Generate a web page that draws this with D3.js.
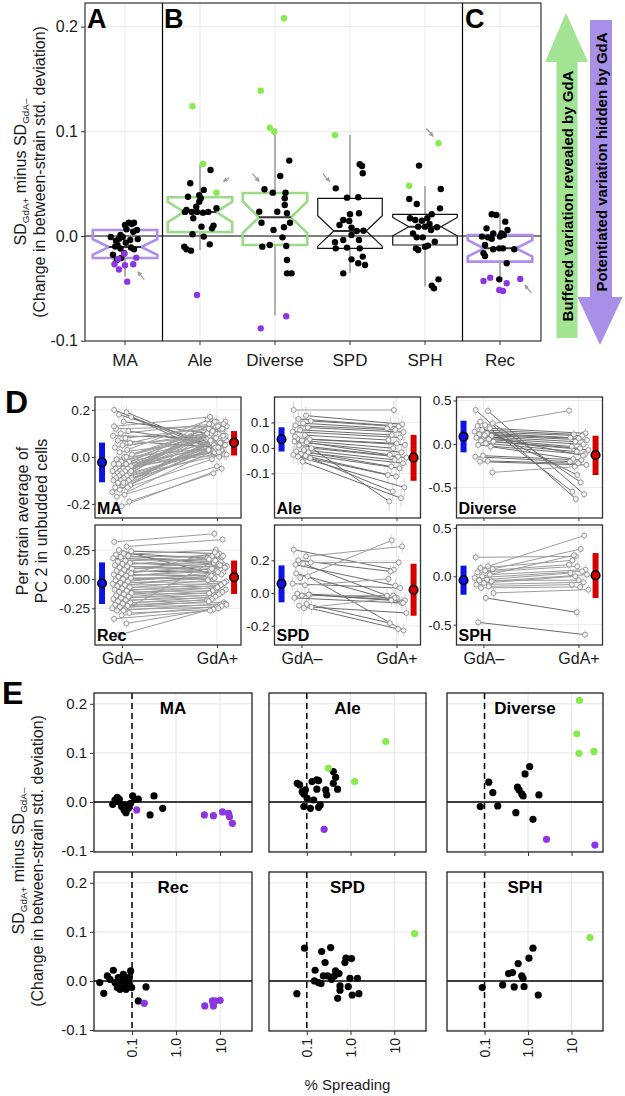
<!DOCTYPE html>
<html><head><meta charset="utf-8">
<script src="https://cdn.jsdelivr.net/npm/d3@7"></script>
<style>body{margin:0;background:#fff} svg{display:block} text{font-family:"Liberation Sans",Arial,sans-serif}</style>
</head><body><svg id="c" width="625" height="1096"></svg>
<script>
// ================= DATA =================
// Panels A-C
const groupNames = ["MA","Ale","Diverse","SPD","SPH","Rec"];
const boxKind = ["hidden","revealed","revealed","none","none","hidden"];
const boxQ1  = [-0.021, 0.0038, -0.0086, -0.0118, -0.0086, -0.0245];
const boxMed = [-0.0105, 0.023, 0.0178, 0.0048, 0.0089, -0.0118];
const boxQ3  = [0.0057, 0.037, 0.041, 0.036, 0.0207, 0.001];
const whiskLo = [-0.039, -0.0134, -0.076, -0.035, -0.048, -0.039];
const whiskHi = [0.013, 0.069, 0.103, 0.0965, 0.0478, 0.0217];
const topTicks = [-0.1, 0.0, 0.1, 0.2];
// [jitter (category units), value, class k=black g=revealed p=hidden]
const maPts = [[-0.19,-0.001,"k"],[-0.12,-0.0045,"k"],[-0.08,-0.0026,"k"],[-0.06,0.001,"k"],[0,0.0105,"k"],[0.05,0.0127,"k"],[0.09,0.0115,"k"],[0.12,0.0127,"k"],[0.16,0.0057,"k"],[0.11,0.004,"k"],[0.07,-0.0038,"k"],[0.01,-0.0064,"k"],[-0.10,-0.0086,"k"],[-0.13,-0.010,"k"],[-0.06,-0.012,"k"],[-0.01,-0.0165,"k"],[-0.05,-0.021,"k"],[-0.11,-0.023,"k"],[0.08,-0.011,"k"],[0.12,-0.0127,"k"],[0.17,-0.003,"k"],[0.02,0.0064,"k"],[-0.03,-0.001,"k"],[-0.16,-0.018,"k"],
 [-0.14,-0.027,"p"],[-0.08,-0.032,"p"],[0.0,-0.028,"p"],[0.11,-0.027,"p"],[0.15,-0.0207,"p"],[-0.01,-0.017,"p"],[0.03,-0.0436,"p"],[-0.09,-0.022,"p"]];
const alePts = [[-0.13,0.0503,"k"],[0.14,0.063,"k"],[-0.16,0.0375,"k"],[-0.01,0.039,"k"],[0.01,0.036,"k"],[0.05,0.044,"k"],[-0.01,0.0328,"k"],[-0.05,0.028,"k"],[-0.11,0.023,"k"],[-0.18,0.0248,"k"],[-0.2,0.023,"k"],[-0.04,0.023,"k"],[0.04,0.0223,"k"],[0.11,0.023,"k"],[0.22,0.0265,"k"],[-0.09,0.017,"k"],[0.02,0.0089,"k"],[0.18,0.0099,"k"],[0.16,0.0073,"k"],[-0.1,0.0016,"k"],[0.05,-0.0006,"k"],[0.13,-0.008,"k"],[-0.21,-0.0102,"k"],[-0.18,-0.0127,"k"],[-0.12,-0.014,"k"],
 [-0.1,0.124,"g"],[0.04,0.0688,"g"],[0.22,0.0414,"g"],[-0.04,-0.0564,"p"]];
const divPts = [[-0.14,0.0446,"k"],[-0.03,0.0414,"k"],[0.14,0.0414,"k"],[0.19,0.072,"k"],[0.07,0.0573,"k"],[0.13,0.036,"k"],[0.13,0.0296,"k"],[-0.21,0.0232,"k"],[0.03,0.0232,"k"],[0.16,0.0217,"k"],[0.2,0.0127,"k"],[-0.18,0.0127,"k"],[-0.02,0.0057,"k"],[0.12,0.0083,"k"],[0.1,-0.0013,"k"],[0.15,-0.0096,"k"],[-0.17,-0.0102,"k"],[-0.07,-0.0086,"k"],[0.16,-0.0229,"k"],[0.16,-0.0357,"k"],[0.22,-0.0357,"k"],
 [-0.19,0.1388,"g"],[0.12,0.208,"g"],[-0.07,0.1034,"g"],[-0.01,0.0996,"g"],[-0.19,-0.0882,"p"],[0.15,-0.0767,"p"]];
const spdPts = [[0.13,0.0685,"k"],[0.16,0.0669,"k"],[0.17,0.0599,"k"],[-0.19,0.0455,"k"],[-0.04,0.0366,"k"],[0.11,0.037,"k"],[0,0.0207,"k"],[0.12,0.0217,"k"],[-0.09,0.0153,"k"],[-0.01,0.0143,"k"],[-0.14,0.0105,"k"],[0.02,0.008,"k"],[0.09,0.0048,"k"],[0.18,0.0051,"k"],[-0.09,-0.0038,"k"],[0.02,0.001,"k"],[0.12,-0.0038,"k"],[-0.2,-0.006,"k"],[-0.04,-0.0111,"k"],[-0.19,-0.0118,"k"],[0.13,-0.0118,"k"],[0.17,-0.0197,"k"],[0.02,-0.0223,"k"],[0.11,-0.0261,"k"],[0.2,-0.0277,"k"],[-0.09,-0.0357,"k"],
 [-0.2,0.0965,"g"]];
const sphPts = [[-0.08,0.0672,"k"],[-0.21,0.0353,"k"],[-0.11,0.0306,"k"],[0.21,0.0449,"k"],[0.09,0.0207,"k"],[0.2,0.0264,"k"],[-0.2,0.0169,"k"],[-0.13,0.0153,"k"],[-0.04,0.0146,"k"],[0.03,0.0169,"k"],[0.06,0.0115,"k"],[-0.09,0.0089,"k"],[0,0.0089,"k"],[0.08,0.0057,"k"],[0.16,0.0083,"k"],[-0.16,0.0025,"k"],[-0.11,-0.0013,"k"],[-0.03,-0.0013,"k"],[0.13,-0.0054,"k"],[0.04,-0.0092,"k"],[0,-0.0102,"k"],[-0.12,-0.0118,"k"],[-0.09,-0.0134,"k"],[0.09,-0.0474,"k"],[0.18,-0.0414,"k"],[0.12,-0.05,"k"],
 [-0.21,0.048,"g"],[0.18,0.0885,"g"]];
const recPts = [[-0.11,0.0207,"k"],[-0.05,0.02,"k"],[0.07,0.0137,"k"],[0.1,0.0057,"k"],[-0.18,0.0073,"k"],[-0.09,0.0025,"k"],[0.02,0.0025,"k"],[-0.24,-0.0006,"k"],[-0.16,-0.0013,"k"],[-0.11,-0.0026,"k"],[0,-0.0006,"k"],[0.05,0.001,"k"],[-0.2,-0.0086,"k"],[-0.09,-0.0127,"k"],[-0.01,-0.0118,"k"],[0.04,-0.0118,"k"],[0.19,-0.0127,"k"],[-0.22,-0.0165,"k"],[-0.2,-0.0191,"k"],[0.09,-0.0261,"k"],[-0.01,-0.0414,"k"],
 [-0.22,-0.043,"p"],[-0.13,-0.0398,"p"],[-0.01,-0.0516,"p"],[0.04,-0.0525,"p"],[0.09,-0.0452,"p"],[0.27,-0.041,"p"]];
const topPoints = [maPts, alePts, divPts, spdPts, sphPts, recPts];
// small grey pointer arrows: [group, jitter, value, direction]
const pointerTips = [["MA",0.17,-0.034,"ul"],["Ale",0.31,0.052,"dl"],["Diverse",-0.21,0.052,"dr"],["SPD",-0.27,0.052,"dr"],["SPH",0.11,0.095,"dr"],["Rec",0.33,-0.0468,"ul"]];
const arrowUpText = "Buffered variation revealed by GdA";
const arrowDownText = "Potentiated variation hidden by GdA";

// Panel D: per strain PC2 averages (GdA-, GdA+)
const dNames = ["MA","Ale","Diverse","Rec","SPD","SPH"];
const maMinus = [0.20,0.19,0.18,0.17,0.15,0.12,0.11,0.10,0.09,0.08,0.07,0.06,0.05,0.04,0.03,0.02,0.01,0.00,-0.01,-0.02,-0.02,-0.03,-0.03,-0.04,-0.04,-0.05,-0.05,-0.05,-0.06,-0.06,-0.06,-0.07,-0.07,-0.07,-0.08,-0.08,-0.08,-0.09,-0.09,-0.09,-0.10,-0.10,-0.10,-0.11,-0.11,-0.12,-0.12,-0.13,-0.13,-0.14,-0.15,-0.16,-0.17,-0.19,-0.21,0.13,0.00,-0.03,-0.06,-0.11];
const maPlus  = [0.03,0.02,0.06,0.00,0.10,0.13,0.05,0.14,0.08,0.12,0.04,0.15,0.09,0.11,0.16,0.07,0.13,0.10,0.14,0.06,0.12,0.08,0.15,0.05,0.11,0.03,0.09,0.13,0.07,0.02,0.12,0.10,0.04,0.16,0.08,0.01,0.11,0.06,0.14,0.03,0.09,0.05,0.12,0.07,0.02,0.10,0.04,0.08,-0.01,0.06,0.03,-0.04,0.05,-0.07,-0.05,0.17,0.04,0.01,0.15,0.09];
const aleMinus = [0.149,0.127,0.114,0.106,0.097,0.088,0.08,0.071,0.064,0.05,0.037,0.034,0.029,0.025,0.022,0.01,-0.001,-0.008,-0.014,-0.017,-0.023,-0.027,-0.031,-0.034,-0.04,-0.054,0.045];
const alePlus  = [0.149,0.093,0.088,0.084,0.077,0.071,0.062,0.051,0.041,0.031,0.018,0.012,-0.001,-0.017,-0.027,-0.034,-0.038,-0.047,-0.06,-0.073,-0.08,-0.106,-0.112,-0.155,-0.171,-0.197,-0.21];
const divMinus = [0.391,0.379,0.257,0.238,0.218,0.207,0.18,0.161,0.142,0.123,0.111,0.095,0.084,0.073,0.054,0.038,0.027,0.008,-0.011,-0.03,-0.134,-0.146,-0.195,-0.203,-0.326,0.10];
const divPlus  = [-0.632,-0.578,-0.548,-0.44,0.383,-0.356,0.123,0.111,0.095,0.073,0.065,0.046,0.027,-0.004,-0.03,-0.05,-0.069,-0.088,-0.119,-0.172,-0.184,-0.203,-0.222,-0.241,-0.26,-0.134];
const recMinus = [0.32,0.28,0.25,0.24,0.22,0.21,0.20,0.19,0.18,0.16,0.15,0.14,0.13,0.12,0.11,0.10,0.09,0.08,0.07,0.06,0.05,0.04,0.03,0.02,0.01,0.00,-0.01,-0.02,-0.03,-0.04,-0.05,-0.06,-0.07,-0.08,-0.09,-0.10,-0.11,-0.12,-0.13,-0.14,-0.15,-0.16,-0.17,-0.18,-0.19,-0.20,-0.21,-0.22,-0.23,-0.24,-0.25,-0.26,-0.27,-0.29,-0.31,-0.34,-0.38,-0.48,0.05,-0.27];
const recPlus  = [0.39,0.34,0.05,0.22,0.18,0.25,0.12,0.20,0.15,0.17,0.21,0.10,0.14,0.19,0.08,0.13,0.11,0.16,0.06,0.09,0.12,0.03,0.07,0.10,0.00,0.04,0.02,0.06,-0.02,0.01,-0.04,0.03,-0.06,-0.01,-0.08,-0.03,-0.10,-0.05,-0.12,-0.07,-0.09,-0.14,-0.11,-0.16,-0.13,-0.18,-0.15,-0.20,-0.17,-0.22,-0.19,-0.24,-0.21,-0.26,-0.23,-0.27,-0.25,-0.22,0.23,0.20];
const spdMinus = [0.265,0.224,0.2,0.187,0.179,0.173,0.102,0.092,0.057,0.047,-0.004,-0.01,-0.016,-0.03,-0.067,-0.077,-0.086,-0.092,0.12,-0.01];
const spdPlus  = [0.143,0.285,0.132,0.187,-0.016,0.045,-0.229,0.322,0.03,0.086,-0.03,-0.045,-0.016,-0.061,-0.184,-0.22,-0.122,-0.03,-0.061,-0.045];
const sphMinus = [0.196,0.103,0.086,0.075,0.058,0.041,0.017,0.0,-0.017,-0.035,-0.041,-0.052,-0.069,-0.086,-0.104,-0.12,-0.172,-0.224,-0.476];
const sphPlus  = [0.206,0.42,0.165,0.282,0.12,0.103,0.068,0.217,0.051,0.034,-0.041,0.017,0.0,-0.062,-0.086,-0.11,-0.138,-0.372,-0.603];
const dStrainSE = [0.025,0.035,0.06,0.035,0.04,0.05];
const dMinusMean = [-0.023,0.034,0.084,-0.035,0.057,-0.041];
const dMinusLo   = [-0.108,-0.014,-0.096,-0.213,-0.057,-0.19];
const dMinusHi   = [0.061,0.081,0.268,0.144,0.169,0.11];
const dPlusMean  = [0.061,-0.038,-0.126,0.017,0.02,0.01];
const dPlusLo    = [0.006,-0.129,-0.356,-0.127,-0.139,-0.224];
const dPlusHi    = [0.11,0.051,0.095,0.16,0.179,0.24];
const dTicks = [[-0.2,0,0.2],[-0.1,0,0.1],[-0.5,0,0.5],[-0.25,0,0.25],[-0.2,0,0.2],[-0.5,0,0.5]];
const dTickDigits = [1,1,1,2,1,1];
const dDomains = [[-0.26,0.255],[-0.275,0.2],[-0.85,0.54],[-0.565,0.465],[-0.318,0.416],[-0.71,0.53]];
const dCondLabels = ["GdA\u2013","GdA+"];

// Panel E: % spreading vs SD change
const eNames = ["MA","Ale","Diverse","Rec","SPD","SPH"];
const eMaX = [0.0364,0.041,0.0464,0.0515,0.058,0.0658,0.073,0.0826,0.093,0.1036,0.117,0.139,0.316,0.257,0.497,0.0758,0.0489,0.0658, 0.128,4.4,7.05,11.3,15.5,16.3,19.0];
const eMaY = [-0.0048,0.004,0.0095,0.0054,-0.0095,-0.0163,-0.0218,-0.0129,-0.0027,0.0122,0.0054,0.006,0.0122,-0.0265,-0.0129,-0.0095,0.0007,-0.0061, -0.0163,-0.0265,-0.0279,-0.0204,-0.0231,-0.03,-0.0435];
const eMaC = "kkkkkkkkkkkkkkkkkkppppppp";
const eAleX = [0.0605,0.0686,0.0785,0.093,0.132,0.17,0.0857,0.121,0.144,0.186,0.17,0.272,0.286,0.404,0.456,0.404,0.506,0.086,0.102,0.186,0.203, 0.312,1.24,6.38, 0.249];
const eAleY = [0.038,0.0347,0.021,0.0245,0.0415,0.045,-0.0095,-0.013,0.004,0.0435,0.026,0.0245,0.0143,0.062,0.05,0.038,0.026,0.016,0.0075,-0.011,-0.006, 0.0687,0.0415,0.123, -0.0558];
const eAleC = "kkkkkkkkkkkkkkkkkkkkkgggp";
const eDivX = [0.125,0.155,0.0798,0.201,0.525,0.573,0.624,0.718,0.769,0.855,1.09,1.78,1.3, 15.2,13.2,14.9,32.7, 2.66,34.5];
const eDivY = [0.0402,0.019,-0.0095,-0.0082,-0.0218,0.03,0.0245,0.0163,0.0122,0.057,0.072,0.0143,-0.0354, 0.207,0.139,0.099,0.103, -0.076,-0.0878];
const eDivC = "kkkkkkkkkkkkkggggpp";
const eRecX = [0.0185,0.0228,0.0275,0.0316,0.0376,0.0411,0.0464,0.0489,0.0534,0.0582,0.0635,0.0694,0.073,0.0826,0.093,0.098,0.0757,0.0582,0.044,0.139,0.208,0.0658,0.0869, 0.19,4.49,7.05,6.7,7.7,10];
const eRecY = [-0.0034,-0.0252,0.0102,0.0034,0.0218,-0.0034,-0.0136,0.0068,-0.017,0,0.0136,0.0068,-0.017,-0.0034,0.0204,-0.0136,-0.0068,-0.0136,-0.0054,-0.0408,-0.0122,0.0102,0.0068, -0.0456,-0.051,-0.051,-0.0408,-0.0408,-0.0394];
const eRecC = "kkkkkkkkkkkkkkkkkkkkkkkpppppp";
const eSpdX = [0.0887,0.0593,0.219,0.351,0.262,0.786,1.05,0.745,0.155,0.24,0.3,0.37,0.456,0.507,0.427,0.545,0.15,0.185,0.212,0.969,1.44,0.574,0.574,0.887,0.507,1.09,1.55, 29.1];
const eSpdY = [0.0667,-0.0259,0.06,0.068,0.0374,0.0463,0.0456,0.0374,0.0218,0.0102,0.0102,0.0034,0.0204,0.015,0.0102,0.015,0,-0.0034,-0.0054,0.0054,0.0054,-0.0102,-0.019,-0.0116,-0.0354,-0.0286,-0.0259, 0.0966];
const eSpdC = "kkkkkkkkkkkkkkkkkkkkkkkkkkkg";
const eSphX = [0.0886,0.261,0.357,0.44,0.481,0.593,0.718,0.769,0.811,1.05,1.3,1.72, 26.6];
const eSphY = [-0.0136,-0.0082,0.015,0.017,-0.0122,0.0354,0.0102,0.0054,-0.0116,0.0463,0.0667,-0.0286, 0.0884];
const eSphC = "kkkkkkkkkkkkg";
const eXTicks = [0.1, 1, 10];
const eXTickLabels = ["0.1","1.0","10"];
const eYTicks = [-0.1, 0, 0.1, 0.2];
const eThreshold = 0.1;

// ================= DRAWING =================
const svg = d3.select("#c");
svg.append("rect").attr("width",625).attr("height",1096).attr("fill","#fff");
const GREEN_PT="#86ec4c", PURPLE_PT="#8b36e2", GREEN_BOX="#9adb88", PURPLE_BOX="#ad8eec";
const GREEN_ARROW="#a3e394", PURPLE_ARROW="#a88fe8";
const colOf = c => c==="g"?GREEN_PT : c==="p"?PURPLE_PT : "#000";
const GRID="#ebebeb", TXT="#1a1a1a";

function ylabel(g, cx, cy, l1size, line2){
  const t1 = g.append("text").attr("transform",`translate(${cx},${cy}) rotate(-90)`)
    .attr("text-anchor","middle").attr("font-size",l1size).attr("fill",TXT);
  t1.append("tspan").text("SD");
  t1.append("tspan").attr("font-size",l1size*0.62).attr("dy",3).text("GdA+");
  t1.append("tspan").attr("dy",-3).text(" minus SD");
  t1.append("tspan").attr("font-size",l1size*0.62).attr("dy",3).text("GdA\u2013");
  g.append("text").attr("transform",`translate(${cx+19},${cy}) rotate(-90)`)
    .attr("text-anchor","middle").attr("font-size",l1size).attr("fill",TXT).text(line2);
}

// ---------- Top panel (A,B,C) ----------
const T = {left:85, right:541, top:3, bottom:341};
const xT = d3.scaleBand().domain(groupNames).range([87.5,537.5]);
const bw = xT.bandwidth();
const cx = n => xT(n) + bw/2;
const yT = d3.scaleLinear().domain([-0.1003,0.2225]).range([T.bottom,T.top]);
const gT = svg.append("g");
gT.selectAll(".vg").data(groupNames).join("line").attr("x1",cx).attr("x2",cx).attr("y1",T.top).attr("y2",T.bottom).attr("stroke",GRID).attr("stroke-width",1);
gT.selectAll(".hg").data(topTicks.filter(d=>d>0)).join("line").attr("x1",T.left).attr("x2",T.right).attr("y1",d=>yT(d)).attr("y2",d=>yT(d)).attr("stroke",GRID);
gT.append("line").attr("x1",T.left).attr("x2",T.right).attr("y1",yT(0)).attr("y2",yT(0)).attr("stroke","#000").attr("stroke-width",1.2);
groupNames.forEach((n,i)=>{
  const c = cx(n), w = bw*0.86, xl = c-w/2, xr = c+w/2;
  const kind = boxKind[i];
  const stroke = kind==="revealed"?GREEN_BOX : kind==="hidden"?PURPLE_BOX : "#111";
  const sw = kind==="none"?1.2:2.6;
  const nPts = topPoints[i].length;
  const iqr = boxQ3[i]-boxQ1[i];
  const nh = boxMed[i] + 1.58*iqr/Math.sqrt(nPts), nl = boxMed[i] - 1.58*iqr/Math.sqrt(nPts);
  gT.append("line").attr("x1",c).attr("x2",c).attr("y1",yT(boxQ3[i])).attr("y2",yT(whiskHi[i])).attr("stroke","#8c8c8c").attr("stroke-width",1.3);
  gT.append("line").attr("x1",c).attr("x2",c).attr("y1",yT(boxQ1[i])).attr("y2",yT(whiskLo[i])).attr("stroke","#8c8c8c").attr("stroke-width",1.3);
  const ni = w*0.25;
  const pts = [[xl,yT(boxQ3[i])],[xl,yT(nh)],[xl+ni,yT(boxMed[i])],[xl,yT(nl)],[xl,yT(boxQ1[i])],[xr,yT(boxQ1[i])],[xr,yT(nl)],[xr-ni,yT(boxMed[i])],[xr,yT(nh)],[xr,yT(boxQ3[i])]];
  gT.append("path").attr("d",d3.line()(pts)+"Z").attr("fill","none").attr("stroke",stroke).attr("stroke-width",sw).attr("stroke-linejoin","miter");
  gT.append("line").attr("x1",xl+ni).attr("x2",xr-ni).attr("y1",yT(boxMed[i])).attr("y2",yT(boxMed[i])).attr("stroke","#333").attr("stroke-width",2);
});
groupNames.forEach((n,i)=>{
  gT.append("g").selectAll("circle").data(topPoints[i]).join("circle")
    .attr("cx",d=>cx(n)+d[0]*bw).attr("cy",d=>yT(d[1])).attr("r",3.2).attr("fill",d=>colOf(d[2]));
});
svg.append("defs").append("marker").attr("id","ah").attr("viewBox","0 0 10 10").attr("refX",9).attr("refY",5)
  .attr("markerWidth",4).attr("markerHeight",4).attr("orient","auto")
  .append("path").attr("d","M0,0L10,5L0,10Z").attr("fill","#9a9a9a");
const tailOff = {ul:[6.5,8], dl:[6,-4], dr:[-7,-8]};
pointerTips.forEach(([n,j,v,dir])=>{
  const x = cx(n)+j*bw, y = yT(v), o = tailOff[dir];
  gT.append("line").attr("x1",x+o[0]).attr("y1",y+o[1]).attr("x2",x).attr("y2",y).attr("stroke","#9a9a9a").attr("stroke-width",1.2).attr("marker-end","url(#ah)");
});
gT.append("rect").attr("x",T.left).attr("y",T.top).attr("width",T.right-T.left).attr("height",T.bottom-T.top).attr("fill","none").attr("stroke","#333").attr("stroke-width",1.2);
[162.5,462.5].forEach(x=>gT.append("line").attr("x1",x).attr("x2",x).attr("y1",T.top).attr("y2",T.bottom).attr("stroke","#000").attr("stroke-width",1.2));
const axL = gT.append("g").attr("transform",`translate(${T.left},0)`).call(d3.axisLeft(yT).tickValues(topTicks).tickFormat(d=>d.toFixed(1)).tickSize(4));
axL.select(".domain").remove();
axL.selectAll("line").attr("stroke","#333");
axL.selectAll("text").attr("font-size",16).attr("fill",TXT).attr("font-family","Liberation Sans, Arial, sans-serif");
const axB = gT.append("g").attr("transform",`translate(0,${T.bottom})`).call(d3.axisBottom(xT).tickSize(4).tickPadding(9));
axB.select(".domain").remove();
axB.selectAll("line").attr("stroke","#333");
axB.selectAll("text").attr("font-size",17).attr("fill",TXT).attr("font-family","Liberation Sans, Arial, sans-serif");
[["A",87],["B",164],["C",465]].forEach(([l,x])=>gT.append("text").attr("x",x).attr("y",28).attr("font-size",27).attr("font-weight","bold").attr("fill","#000").text(l));
ylabel(gT, 26, 172, 16, "(Change in between-strain std. deviation)");
// big arrows
svg.append("path").attr("d","M566,13 L588,62 L577.5,62 L577.5,338 L556.5,338 L556.5,62 L545,62 Z").attr("fill",GREEN_ARROW);
svg.append("path").attr("d","M590,20 L612,20 L612,297 L622.5,297 L600,345 L577.5,297 L590,297 Z").attr("fill",PURPLE_ARROW);
svg.append("text").attr("transform","translate(572.5,196) rotate(-90)").attr("text-anchor","middle").attr("font-size",15).attr("font-weight","bold").attr("fill","#000").text(arrowUpText);
svg.append("text").attr("transform","translate(606.5,162) rotate(-90)").attr("text-anchor","middle").attr("font-size",15).attr("font-weight","bold").attr("fill","#000").text(arrowDownText);

// ---------- Panel D ----------
const dMinus = [maMinus, aleMinus, divMinus, recMinus, spdMinus, sphMinus];
const dPlus  = [maPlus, alePlus, divPlus, recPlus, spdPlus, sphPlus];
const dLefts = [95, 274.5, 456.5], dTops = [397, 525], dH = [121, 120], dW = 146;
svg.append("text").attr("x",5).attr("y",413).attr("font-size",32).attr("font-weight","bold").text("D");
dNames.forEach((name,i)=>{
  const col = i%3, row = Math.floor(i/3);
  const L = dLefts[col], Tp = dTops[row], H = dH[row];
  const x = d3.scaleLinear().domain([-0.284,1.253]).range([L, L+dW]);
  const y = d3.scaleLinear().domain(dDomains[i]).range([Tp+H, Tp]);
  const g = svg.append("g");
  dTicks[i].forEach(t=>g.append("line").attr("x1",L).attr("x2",L+dW).attr("y1",y(t)).attr("y2",y(t)).attr("stroke",GRID));
  [0,1].forEach(t=>g.append("line").attr("x1",x(t)).attr("x2",x(t)).attr("y1",Tp).attr("y2",Tp+H).attr("stroke",GRID));
  const m = dMinus[i], p = dPlus[i], se = dStrainSE[i];
  const jm = m.map((_,k)=>(((k*0.618034+0.11)%1)-0.5)*20);
  const jp = p.map((_,k)=>(((k*0.414214+0.37)%1)-0.5)*20);
  m.forEach((v,k)=>{
    g.append("line").attr("x1",x(0)+jm[k]).attr("x2",x(0)+jm[k]).attr("y1",y(v-se)).attr("y2",y(v+se)).attr("stroke","#d6d6d6").attr("stroke-width",1);
    g.append("line").attr("x1",x(1)+jp[k]).attr("x2",x(1)+jp[k]).attr("y1",y(p[k]-se)).attr("y2",y(p[k]+se)).attr("stroke","#d6d6d6").attr("stroke-width",1);
  });
  m.forEach((v,k)=>{
    g.append("line").attr("x1",x(0)+jm[k]).attr("y1",y(v)).attr("x2",x(1)+jp[k]).attr("y2",y(p[k]))
      .attr("stroke", p[k]>=v ? "#9c9c9c" : "#6c6c6c").attr("stroke-width",1);
  });
  m.forEach((v,k)=>{
    g.append("circle").attr("cx",x(0)+jm[k]).attr("cy",y(v)).attr("r",2.5).attr("fill","#f3f3f3").attr("stroke","#858585").attr("stroke-width",0.8);
    g.append("circle").attr("cx",x(1)+jp[k]).attr("cy",y(p[k])).attr("r",2.5).attr("fill","#f3f3f3").attr("stroke","#858585").attr("stroke-width",0.8);
  });
  g.append("rect").attr("x",x(-0.21)-3).attr("width",6).attr("y",y(dMinusHi[i])).attr("height",y(dMinusLo[i])-y(dMinusHi[i])).attr("fill","#0d12e6");
  g.append("circle").attr("cx",x(-0.21)).attr("cy",y(dMinusMean[i])).attr("r",4.3).attr("fill","#0d12e6").attr("stroke","#000").attr("stroke-width",1.5);
  g.append("rect").attr("x",x(1.18)-3).attr("width",6).attr("y",y(dPlusHi[i])).attr("height",y(dPlusLo[i])-y(dPlusHi[i])).attr("fill","#d40000");
  g.append("circle").attr("cx",x(1.18)).attr("cy",y(dPlusMean[i])).attr("r",4.3).attr("fill","#d40000").attr("stroke","#000").attr("stroke-width",1.5);
  g.append("rect").attr("x",L).attr("y",Tp).attr("width",dW).attr("height",H).attr("fill","none").attr("stroke","#333").attr("stroke-width",1.3);
  const ay = g.append("g").attr("transform",`translate(${L},0)`).call(d3.axisLeft(y).tickValues(dTicks[i]).tickFormat(d=>d.toFixed(dTickDigits[i])).tickSize(3).tickPadding(2));
  ay.select(".domain").remove(); ay.selectAll("line").attr("stroke","#333");
  ay.selectAll("text").attr("font-size",13.5).attr("fill",TXT).attr("font-family","Liberation Sans, Arial, sans-serif");
  const ax = g.append("g").attr("transform",`translate(0,${Tp+H})`).call(d3.axisBottom(x).tickValues([0,1]).tickFormat((d,k)=>row===1?dCondLabels[k]:"").tickSize(3).tickPadding(5));
  ax.select(".domain").remove(); ax.selectAll("line").attr("stroke","#333");
  ax.selectAll("text").attr("font-size",16).attr("fill",TXT).attr("font-family","Liberation Sans, Arial, sans-serif");
  g.append("text").attr("x",L+2).attr("y",Tp+H-4).attr("font-size",16).attr("font-weight","bold").text(name);
});
svg.append("text").attr("transform","translate(28,521) rotate(-90)").attr("text-anchor","middle").attr("font-size",16).attr("fill",TXT).text("Per strain average of");
svg.append("text").attr("transform","translate(47,521) rotate(-90)").attr("text-anchor","middle").attr("font-size",16).attr("fill",TXT).text("PC 2 in unbudded cells");

// ---------- Panel E ----------
const eX = [eMaX,eAleX,eDivX,eRecX,eSpdX,eSphX], eY=[eMaY,eAleY,eDivY,eRecY,eSpdY,eSphY], eC=[eMaC,eAleC,eDivC,eRecC,eSpdC,eSphC];
const eLefts = [94,269,447], eWs = [158,157,156], eTops = [693,872], eH = 159;
svg.append("text").attr("x",2).attr("y",704).attr("font-size",32).attr("font-weight","bold").text("E");
eNames.forEach((name,i)=>{
  const col=i%3, row=Math.floor(i/3);
  const L=eLefts[col], W=eWs[col], Tp=eTops[row];
  const x = d3.scaleLog().domain([0.0137,53]).range([L,L+W]);
  const y = d3.scaleLinear().domain([-0.102,0.222]).range([Tp+eH,Tp]);
  const g = svg.append("g");
  eYTicks.forEach(t=>g.append("line").attr("x1",L).attr("x2",L+W).attr("y1",y(t)).attr("y2",y(t)).attr("stroke","#e6e6e6"));
  eXTicks.forEach(t=>g.append("line").attr("x1",x(t)).attr("x2",x(t)).attr("y1",Tp).attr("y2",Tp+eH).attr("stroke","#e6e6e6"));
  g.append("line").attr("x1",L).attr("x2",L+W).attr("y1",y(0)).attr("y2",y(0)).attr("stroke","#000").attr("stroke-width",1.5);
  g.append("line").attr("x1",x(eThreshold)).attr("x2",x(eThreshold)).attr("y1",Tp).attr("y2",Tp+eH).attr("stroke","#000").attr("stroke-width",1.5).attr("stroke-dasharray","6,4");
  const pts = eX[i].map((v,k)=>({x:v,y:eY[i][k],c:eC[i][k]}));
  g.selectAll("circle").data(pts).join("circle").attr("cx",d=>x(d.x)).attr("cy",d=>y(d.y)).attr("r",3.6).attr("fill",d=>colOf(d.c));
  g.append("rect").attr("x",L).attr("y",Tp).attr("width",W).attr("height",eH).attr("fill","none").attr("stroke","#222").attr("stroke-width",1.3);
  g.append("text").attr("x",L+W/2).attr("y",Tp+21).attr("text-anchor","middle").attr("font-size",17).attr("font-weight","bold").text(name);
  const ax = g.append("g").attr("transform",`translate(0,${Tp+eH})`).call(d3.axisBottom(x).tickValues(eXTicks).tickFormat((d,k)=>row===1?eXTickLabels[k]:"").tickSize(4));
  ax.select(".domain").remove(); ax.selectAll("line").attr("stroke","#333");
  ax.selectAll("text").attr("font-size",14).attr("fill",TXT).attr("font-family","Liberation Sans, Arial, sans-serif")
    .attr("transform","rotate(-90)").attr("text-anchor","end").attr("x",-7).attr("y",0).attr("dy","0.35em");
  if(col===0){
    const ay = g.append("g").attr("transform",`translate(${L},0)`).call(d3.axisLeft(y).tickValues(eYTicks).tickFormat(d=>d.toFixed(1)).tickSize(4));
    ay.select(".domain").remove(); ay.selectAll("line").attr("stroke","#333");
    ay.selectAll("text").attr("font-size",15).attr("fill",TXT).attr("font-family","Liberation Sans, Arial, sans-serif");
  }
});
ylabel(svg, 24, 861, 16, "(Change in between-strain std. deviation)");
svg.append("text").attr("x",347.5).attr("y",1090).attr("text-anchor","middle").attr("font-size",15).attr("fill",TXT).text("% Spreading");
</script></body></html>
